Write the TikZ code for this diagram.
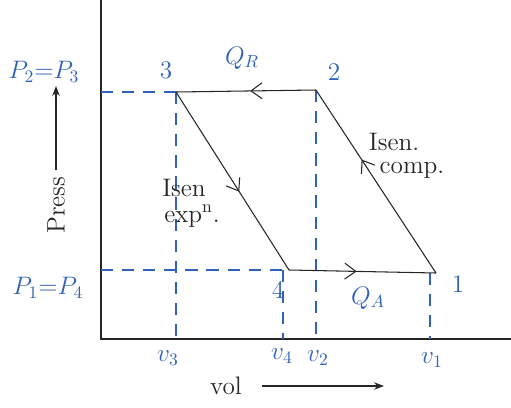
\documentclass[tikz,border=0pt]{standalone}
\usepackage{amsmath}
\usepackage{xcolor,tikz}
\usetikzlibrary{arrows.meta,positioning,decorations.markings}
\definecolor{InkBlue}{HTML}{2F62B8}
\definecolor{InkDark}{HTML}{262626}
\tikzset{>=Stealth,every node/.style={font=\Large},lbl/.style={text=InkBlue},
 note/.style={text=InkDark,font=\Large},guide/.style={draw=InkBlue,thick,
 dash pattern=on 7pt off 5pt},proc/.style={draw=InkDark,semithick},
 midarrow/.style={postaction={decorate},decoration={markings,
 mark=at position #1 with {\arrow{Straight Barb[length=2.2mm,width=3.2mm]}}}}}
\begin{document}
\begin{tikzpicture}[x=0.02cm,y=-0.02cm]
\useasboundingbox (0,0) rectangle (511,407);
% axes
\coordinate (o) at (101,339);
\coordinate (ytop) at (101,0);
\coordinate (xend) at (511,339);
\draw[InkDark,thick] (ytop)--(o)--(xend);
% state points
\coordinate (s1) at (436,273);
\coordinate (s2) at (316,90);
\coordinate (s3) at (176,92);
\coordinate (s4) at (289,270);
% guide lines
\draw[guide] (s3-|o)--(s3);
\draw[guide] (s4-|o)--(s4);
\draw[guide] (s3)--(s3|-o);
\draw[guide] (s2)--(s2|-o);
\draw[guide] (s4)++(-6,0)--(283,339);
\draw[guide] (s1)++(-6,0)--(430,339);
% cycle
\draw[proc,midarrow=0.62] (s1)--(s2);
\draw[proc,midarrow=0.47] (s2)--(s3);
\draw[proc,midarrow=0.56] (s3)--(s4);
\draw[proc,midarrow=0.46] (s4)--(s1);
% point labels
\node[lbl] (n3) at (166,70) {3};
\node[lbl] (n2) at (334,72) {2};
\node[lbl] (n4) at (278,290) {4};
\node[lbl] (n1) at (458,284) {1};
\node[lbl] (qr) at (242,58) {$Q_R$};
\node[lbl] (qa) at (368,298) {$Q_A$};
\node[lbl] (p23) at (44,72) {$P_2{=}P_3$};
\node[lbl] (p14) at (48,288) {$P_1{=}P_4$};
\node[lbl] (v3) at (168,358) {$v_3$};
\node[lbl] (v4) at (282,356) {$v_4$};
\node[lbl] (v2) at (318,358) {$v_2$};
\node[lbl] (v1) at (432,360) {$v_1$};
% process notes
\node[note] (ic1) at (394,142) {Isen.};
\node[note] (ic2) at (412,170) {comp.};
\node[note] (ie1) at (184,188) {Isen};
\node[note] (ie2) at (192,216) {exp$^{\text{n}}$.};
% axis names
\node[note,rotate=90] (press) at (56,205) {Press};
\coordinate (ptip) at (62,86);
\draw[->,InkDark,semithick] (press.east)--(press.east|-ptip);
\node[note] (vol) at (226,386) {vol};
\coordinate (vtip) at (384,388);
\draw[->,InkDark,semithick,shorten <=8pt] (vol.east)--(vol.east-|vtip);
\end{tikzpicture}
\end{document}
